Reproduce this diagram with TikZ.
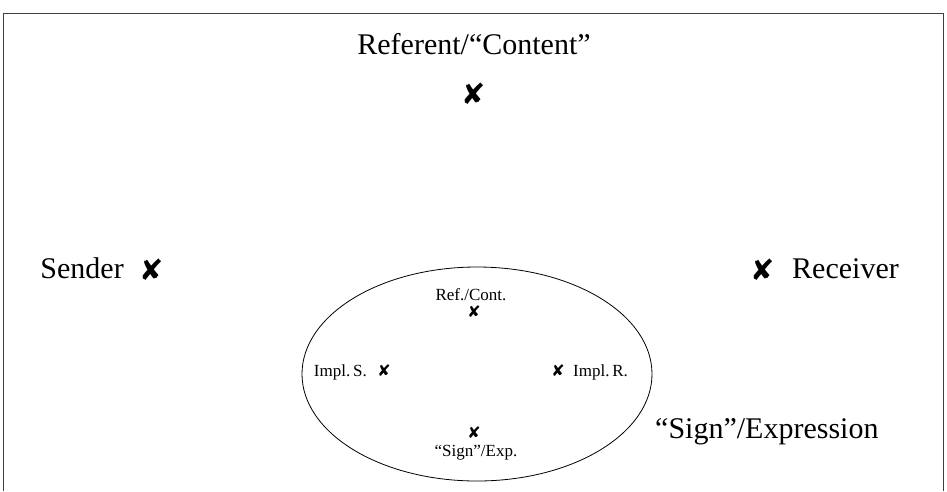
\documentclass[tikz,border=0pt]{standalone}
\usepackage{fontspec}
\setmainfont{Liberation Serif}
\newfontfamily\crossfont{DejaVu Sans}
\usetikzlibrary{positioning,shapes.geometric}
\tikzset{
  bigcross/.style={inner sep=0pt,font=\crossfont\fontsize{29}{29}\selectfont},
  smallcross/.style={inner sep=0pt,font=\crossfont\fontsize{16}{16}\selectfont},
  bigtext/.style={inner sep=0pt,font=\fontsize{30}{34}\selectfont},
  smalltext/.style={inner sep=0pt,font=\fontsize{17}{19}\selectfont},
  frameline/.style={draw=black!75,line width=1pt},
  signfield/.style={draw,ellipse,inner sep=0pt,line width=0.8pt,minimum width=350pt,minimum height=214pt}
}
\begin{document}
\begin{tikzpicture}[x=1pt,y=-1pt]
  \useasboundingbox (0,0) rectangle (947,491);
  \draw[frameline] (3,491) -- (3,13) -- (943,13) -- (943,491);
  % outer model
  \node[bigcross] (refx) at (474,94) {✘};
  \node[bigtext,anchor=base] (referent) at ([yshift=40pt]refx.center) {Referent/“Content”};
  \node[bigcross] (senderx) at (152,270) {✘};
  \node[bigtext,anchor=base east] (sender) at ([xshift=-28pt,yshift=-8pt]senderx.center) {Sender};
  \node[bigcross] (receiverx) at (763,270) {✘};
  \node[bigtext,anchor=base west] (receiver) at ([xshift=29pt,yshift=-8pt]receiverx.center) {Receiver};
  % the sign
  \node[signfield] (sign) at (477,374) {};
  \node[smallcross] (refcx) at (474,312) {✘};
  \node[smalltext,anchor=base] (refcont) at ([xshift=-3pt,yshift=12pt]refcx.center) {Ref./Cont.};
  \node[smallcross] (implsx) at (384,371) {✘};
  \node[smalltext,anchor=base east] (impls) at ([xshift=-17pt,yshift=-5pt]implsx.center) {Impl.\,S.};
  \node[smallcross] (implrx) at (558,371) {✘};
  \node[smalltext,anchor=base west] (implr) at ([xshift=15pt,yshift=-5pt]implrx.center) {Impl.\,R.};
  \node[smallcross] (signx) at (474,433) {✘};
  \node[smalltext,anchor=base] (signexp) at ([xshift=2pt,yshift=-23pt]signx.center) {“Sign”/Exp.};
  \node[bigtext,anchor=base west] (signlabel) at (655,438) {“Sign”/Expression};
\end{tikzpicture}
\end{document}
